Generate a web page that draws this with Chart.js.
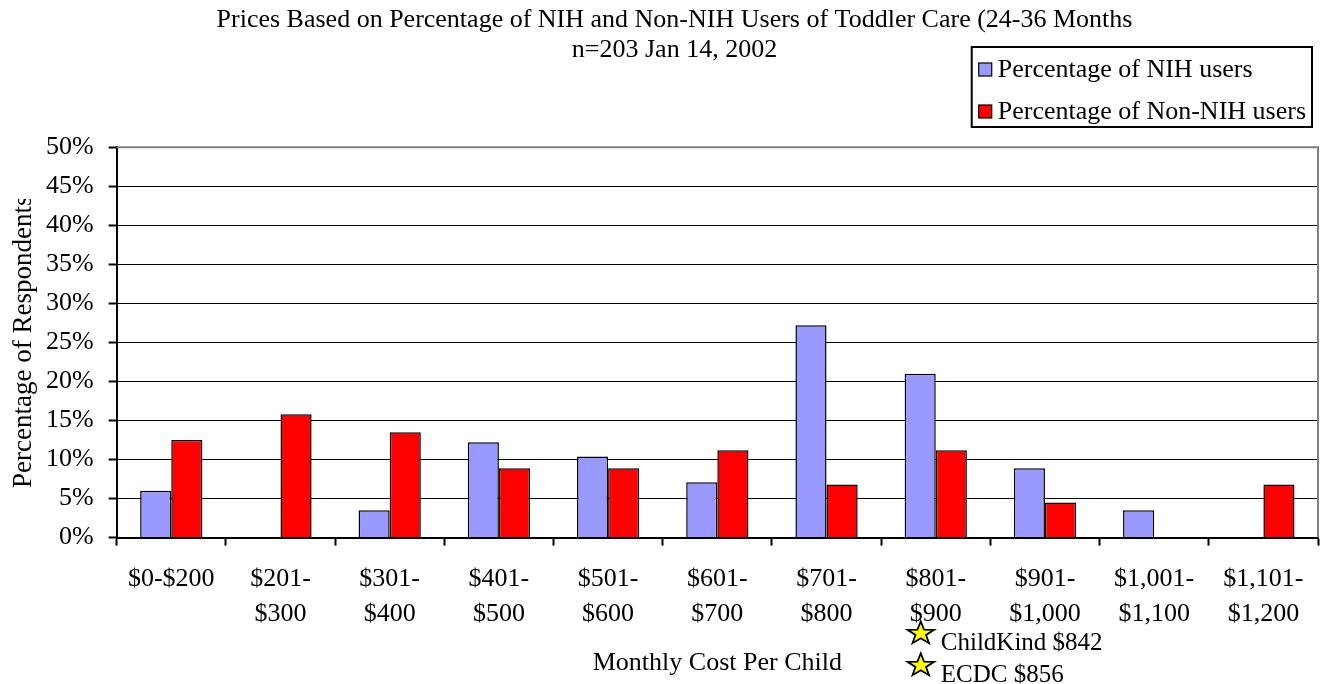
<!DOCTYPE html>
<html>
<head>
<meta charset="utf-8">
<script src="https://cdn.jsdelivr.net/npm/chart.js@4.4.1/dist/chart.umd.min.js"></script>
<style>
  html, body { margin: 0; padding: 0; background: #ffffff; }
  #wrap { width: 1323px; height: 684px; position: relative; }
</style>
</head>
<body>
<div id="wrap"><canvas id="c" width="1323" height="684"></canvas></div>
<script>
// ---- data ----
const categories = [
  ['$0-$200'],
  ['$201-', '$300'],
  ['$301-', '$400'],
  ['$401-', '$500'],
  ['$501-', '$600'],
  ['$601-', '$700'],
  ['$701-', '$800'],
  ['$801-', '$900'],
  ['$901-', '$1,000'],
  ['$1,001-', '$1,100'],
  ['$1,101-', '$1,200']
];
const nihValues    = [6.0, 0, 3.5, 12.2, 10.4, 7.1, 27.2, 21.0, 8.9, 3.5, 0];
const nonNihValues = [12.5, 15.8, 13.5, 8.9, 8.9, 11.2, 6.8, 11.2, 4.5, 0, 6.8];
const seriesNames  = ['Percentage of NIH users', 'Percentage of Non-NIH users'];
const titleLines   = ['Prices Based on Percentage of NIH and Non-NIH Users of Toddler Care (24-36 Months', 'n=203 Jan 14, 2002'];
const yTitle = 'Percentage of Respondents';
const xTitle = 'Monthly Cost Per Child';
const noteLabels = ['ChildKind $842', 'ECDC $856'];
const noteCategory = 7; // notes sit under the $801-$900 category

const FONT = "'Liberation Serif', 'Times New Roman', serif";
const FS = 26;

function drawStar(ctx, cx, cy, rOuter, rInner, sy) {
  ctx.beginPath();
  for (let i = 0; i < 10; i++) {
    const r = i % 2 === 0 ? rOuter : rInner;
    const a = -Math.PI / 2 + i * Math.PI / 5;
    const x = cx + r * Math.cos(a), y = cy + sy * r * Math.sin(a) + 1.5;
    if (i === 0) ctx.moveTo(x, y); else ctx.lineTo(x, y);
  }
  ctx.closePath();
  ctx.fillStyle = '#FFFF00';
  ctx.fill();
  ctx.lineWidth = 1.8;
  ctx.lineJoin = 'miter';
  ctx.strokeStyle = '#000000';
  ctx.stroke();
}

const framePlugin = {
  id: 'frame',
  afterDraw(chart) {
    const ctx = chart.ctx, a = chart.chartArea;
    ctx.save();
    ctx.strokeStyle = '#808080';
    ctx.lineWidth = 2;
    ctx.beginPath();
    ctx.moveTo(a.left, a.top); ctx.lineTo(a.right, a.top); ctx.lineTo(a.right, a.bottom);
    ctx.stroke();
    ctx.restore();
  }
};

const yTitlePlugin = {
  id: 'yTitleClipped',
  afterDraw(chart) {
    const ctx = chart.ctx;
    ctx.save();
    ctx.beginPath();
    ctx.rect(0, 199, 60, 400);
    ctx.clip();
    ctx.translate(24, 488);
    ctx.rotate(-Math.PI / 2);
    ctx.font = '27px ' + FONT;
    ctx.fillStyle = '#000';
    ctx.textAlign = 'left';
    ctx.textBaseline = 'middle';
    ctx.fillText(yTitle, 0, 0);
    ctx.restore();
  }
};

const legendPlugin = {
  id: 'boxLegend',
  afterDraw(chart) {
    const ctx = chart.ctx;
    ctx.save();
    ctx.font = FS + 'px ' + FONT;
    const right = 1312, top = 47, bottom = 127, textRight = 1306;
    let maxW = 0;
    chart.data.datasets.forEach(d => { maxW = Math.max(maxW, ctx.measureText(d.label).width); });
    const textLeft = textRight - maxW;
    const left = textLeft - 6 - 13 - 7;
    ctx.fillStyle = '#ffffff';
    ctx.fillRect(left, top, right - left, bottom - top);
    ctx.strokeStyle = '#000000';
    ctx.lineWidth = 2;
    ctx.strokeRect(left, top, right - left, bottom - top);
    chart.data.datasets.forEach((d, i) => {
      const cy = top + 22 + i * 42;
      ctx.fillStyle = d.backgroundColor;
      ctx.fillRect(left + 7, cy - 6, 13, 13);
      ctx.lineWidth = 1.2;
      ctx.strokeStyle = '#000';
      ctx.strokeRect(left + 7, cy - 6, 13, 13);
      ctx.fillStyle = '#000';
      ctx.textBaseline = 'middle';
      ctx.textAlign = 'left';
      ctx.fillText(d.label, textLeft, cy + 1);
    });
    ctx.restore();
  }
};

const notesPlugin = {
  id: 'notes',
  afterDraw(chart) {
    const ctx = chart.ctx;
    const xs = chart.scales.x;
    const base = xs.getPixelForValue(noteCategory);
    ctx.save();
    ctx.font = '25px ' + FONT;
    ctx.textBaseline = 'alphabetic';
    ctx.textAlign = 'left';
    noteLabels.forEach((t, i) => {
      const cy = 632 + i * 32;
      drawStar(ctx, base - 15, cy, 14, 5.6, 0.86);
      ctx.fillStyle = '#000';
      ctx.fillText(t, base + 5, cy + 18);
    });
    ctx.restore();
  }
};

new Chart(document.getElementById('c'), {
  type: 'bar',
  data: {
    labels: categories,
    datasets: [
      { label: seriesNames[0], data: nihValues, backgroundColor: '#9999FF', borderColor: '#000000', borderWidth: 1.5, barPercentage: 1, categoryPercentage: 0.57 },
      { label: seriesNames[1], data: nonNihValues, backgroundColor: '#FF0000', borderColor: '#000000', borderWidth: 1.5, barPercentage: 1, categoryPercentage: 0.57 }
    ]
  },
  options: {
    responsive: false,
    animation: false,
    layout: { padding: { left: 31, right: 5, top: 0, bottom: 5 } },
    plugins: {
      legend: { display: false },
      tooltip: { enabled: false },
      title: {
        display: true,
        text: titleLines,
        color: '#000',
        font: { family: FONT, size: FS, weight: 'normal', lineHeight: 1.15 },
        padding: { top: 5, bottom: 82.5 }
      }
    },
    scales: {
      x: {
        grid: { display: true, drawOnChartArea: false, drawTicks: true, tickLength: 8, tickColor: '#000', tickWidth: 2, offset: true },
        border: { display: true, color: '#000', width: 2 },
        ticks: { color: '#000', font: { family: FONT, size: FS, lineHeight: 1.35 }, maxRotation: 0, autoSkip: false, padding: 16 },
        title: { display: true, text: xTitle, color: '#000', font: { family: FONT, size: FS, lineHeight: 1.2 }, padding: { top: 0, bottom: 0 } }
      },
      y: {
        min: 0, max: 50,
        ticks: { stepSize: 5, color: '#000', font: { family: FONT, size: FS }, padding: 15, callback: v => v + '%' },
        grid: { color: '#000', lineWidth: 1, drawTicks: true, tickLength: 8, tickColor: '#000', tickWidth: 2 },
        border: { display: true, color: '#000', width: 2 }
      }
    }
  },
  plugins: [framePlugin, yTitlePlugin, legendPlugin, notesPlugin]
});
</script>
</body>
</html>
